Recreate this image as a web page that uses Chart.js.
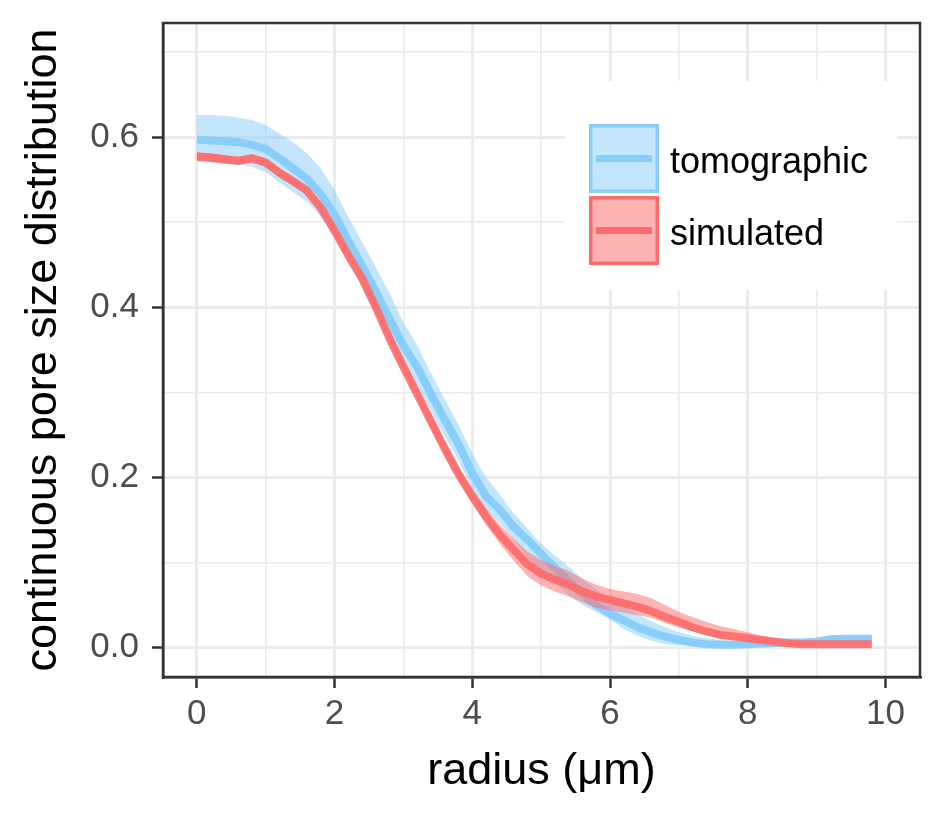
<!DOCTYPE html>
<html>
<head>
<meta charset="utf-8">
<script src="https://cdn.jsdelivr.net/npm/chart.js@4.4.0/dist/chart.umd.min.js"></script>
<style>
  html, body { margin: 0; padding: 0; background: #ffffff; }
  #wrap { width: 944px; height: 826px; }
</style>
</head>
<body>
<div id="wrap"><canvas id="pore-chart"></canvas></div>
<script>
// radius values (um)
var radius = [0, 0.2, 0.4, 0.6, 0.8, 1.0, 1.2, 1.4, 1.6, 1.8,
              2.0, 2.2, 2.4, 2.6, 2.8, 3.0, 3.2, 3.4, 3.6, 3.8,
              4.0, 4.2, 4.4, 4.6, 4.8, 5.0, 5.2, 5.4, 5.6, 5.8,
              6.0, 6.2, 6.4, 6.6, 6.8, 7.0, 7.2, 7.4, 7.6, 7.8,
              8.0, 8.2, 8.4, 8.6, 8.8, 9.0, 9.2, 9.4, 9.6, 9.8];

var tomoMean = [0.597, 0.596, 0.595, 0.594, 0.591, 0.586, 0.575, 0.563, 0.551, 0.533,
                0.509, 0.478, 0.449, 0.418, 0.386, 0.355, 0.330, 0.298, 0.268, 0.239,
                0.205, 0.178, 0.162, 0.142, 0.127, 0.110, 0.094, 0.078, 0.063, 0.050,
                0.040, 0.032, 0.024, 0.018, 0.013, 0.009, 0.006, 0.004, 0.0035, 0.0035,
                0.004, 0.005, 0.0055, 0.006, 0.006, 0.007, 0.010, 0.0105, 0.0105, 0.0105];
var tomoHigh = [0.626, 0.626, 0.625, 0.623, 0.620, 0.614, 0.604, 0.594, 0.581, 0.563,
                0.538, 0.506, 0.477, 0.447, 0.416, 0.382, 0.355, 0.322, 0.292, 0.262,
                0.228, 0.200, 0.180, 0.158, 0.140, 0.122, 0.108, 0.095, 0.081, 0.068,
                0.057, 0.048, 0.039, 0.031, 0.024, 0.018, 0.014, 0.011, 0.009, 0.008,
                0.008, 0.009, 0.009, 0.010, 0.010, 0.011, 0.013, 0.013, 0.013, 0.013];
var tomoLow  = [0.571, 0.570, 0.569, 0.568, 0.565, 0.559, 0.547, 0.535, 0.524, 0.507,
                0.483, 0.452, 0.424, 0.393, 0.362, 0.332, 0.307, 0.278, 0.248, 0.220,
                0.188, 0.162, 0.146, 0.127, 0.106, 0.089, 0.076, 0.062, 0.050, 0.042,
                0.033, 0.022, 0.014, 0.008, 0.004, 0.003, 0.002, 0.001, 0.001, 0.001,
                0.001, 0.001, 0.001, 0.002, 0.002, 0.003, 0.008, 0.008, 0.008, 0.008];

var simMean = [0.577, 0.576, 0.574, 0.572, 0.575, 0.570, 0.558, 0.548, 0.537, 0.517,
               0.490, 0.461, 0.434, 0.400, 0.363, 0.330, 0.298, 0.266, 0.234, 0.204,
               0.178, 0.154, 0.133, 0.115, 0.098, 0.087, 0.080, 0.074, 0.066, 0.060,
               0.056, 0.052, 0.048, 0.043, 0.036, 0.030, 0.024, 0.019, 0.015, 0.013,
               0.011, 0.009, 0.007, 0.005, 0.004, 0.004, 0.004, 0.004, 0.004, 0.004];
var simHigh = [0.582, 0.581, 0.579, 0.577, 0.580, 0.575, 0.563, 0.553, 0.542, 0.522,
               0.495, 0.466, 0.439, 0.405, 0.368, 0.335, 0.304, 0.272, 0.241, 0.212,
               0.187, 0.164, 0.144, 0.128, 0.113, 0.103, 0.096, 0.090, 0.081, 0.074,
               0.069, 0.066, 0.063, 0.058, 0.050, 0.042, 0.036, 0.030, 0.025, 0.022,
               0.018, 0.014, 0.011, 0.008, 0.006, 0.005, 0.005, 0.005, 0.005, 0.005];
var simLow  = [0.572, 0.571, 0.569, 0.567, 0.570, 0.565, 0.553, 0.543, 0.532, 0.512,
               0.485, 0.456, 0.429, 0.395, 0.358, 0.325, 0.292, 0.260, 0.227, 0.196,
               0.169, 0.144, 0.122, 0.102, 0.084, 0.073, 0.066, 0.060, 0.053, 0.047,
               0.044, 0.041, 0.038, 0.035, 0.029, 0.024, 0.019, 0.015, 0.011, 0.009,
               0.007, 0.005, 0.004, 0.003, 0.003, 0.003, 0.003, 0.003, 0.003, 0.003];

var seriesNames = ['tomographic', 'simulated'];
var xMajor = [0, 2, 4, 6, 8, 10];
var xMinor = [1, 3, 5, 7, 9];
var yMajor = [0, 0.2, 0.4, 0.6];
var yMinor = [0.1, 0.3, 0.5, 0.7];

var FONT = "'Liberation Sans', Arial, sans-serif";
var blue = '#87CEFA', red = '#FF6A6A';
var blueBand = 'rgba(135,206,250,0.5)', redBand = 'rgba(255,106,106,0.5)';
var clear = 'rgba(0,0,0,0)';

function pts(vals) {
    return radius.map(function (r, i) { return { x: r, y: vals[i] }; });
}
function isMajor(list, v) {
    return list.some(function (m) { return Math.abs(m - v) < 1e-6; });
}
function tickList(a, b) {
    return a.concat(b).sort(function (p, q) { return p - q; }).map(function (v) { return { value: v }; });
}
function noEdgePadding(s) {
    s.paddingTop = 0; s.paddingBottom = 0; s.paddingLeft = 0; s.paddingRight = 0;
}

// panel border drawn over the data, like ggplot's panel.border
var panelFrame = {
    id: 'panelFrame',
    afterDatasetsDraw: function (chart) {
        var a = chart.chartArea, c = chart.ctx;
        c.save();
        c.strokeStyle = '#333333';
        c.lineWidth = 2.5;
        c.strokeRect(a.left, a.top, a.right - a.left, a.bottom - a.top);
        c.restore();
    }
};

// legend placed inside the panel (top right)
var insideLegend = {
    id: 'insideLegend',
    afterDraw: function (chart) {
        var a = chart.chartArea, c = chart.ctx;
        var bx = a.left + 402, by = a.top + 58;
        c.save();
        c.fillStyle = '#ffffff';
        c.fillRect(bx, by, 332, 209);
        var keys = [[blue, blueBand], [red, redBand]];
        for (var i = 0; i < keys.length; i++) {
            var kx = bx + 24, ky = by + 43 + i * 72;
            c.fillStyle = '#ffffff';
            c.fillRect(kx, ky, 70, 69);
            c.fillStyle = keys[i][1];
            c.fillRect(kx, ky, 70, 69);
            c.strokeStyle = keys[i][0];
            c.lineWidth = 3.5;
            c.strokeRect(kx + 1.75, ky + 1.75, 66.5, 65.5);
            c.fillStyle = keys[i][0];
            c.fillRect(kx + 7, ky + 31, 56, 7);
            c.fillStyle = '#000000';
            c.font = '36px ' + FONT;
            c.textBaseline = 'alphabetic';
            c.textAlign = 'left';
            c.fillText(seriesNames[i], kx + 81, ky + 49);
        }
        c.restore();
    }
};

var ctx = document.getElementById('pore-chart');

var PoreChart = new Chart(ctx, {
    type: 'line',
    data: {
        datasets: [
            { label: 'tomo low', data: pts(tomoLow), borderColor: clear, borderWidth: 0, pointRadius: 0, fill: false, order: 7 },
            { label: 'tomo band', data: pts(tomoHigh), borderColor: clear, borderWidth: 0, pointRadius: 0, fill: '-1', backgroundColor: blueBand, order: 6 },
            { label: seriesNames[0], data: pts(tomoMean), borderColor: 'rgba(135,206,250,0.95)', borderWidth: 8, pointRadius: 0, fill: false, order: 5 },
            { label: 'sim low', data: pts(simLow), borderColor: clear, borderWidth: 0, pointRadius: 0, fill: false, order: 4 },
            { label: 'sim band', data: pts(simHigh), borderColor: clear, borderWidth: 0, pointRadius: 0, fill: '-1', backgroundColor: redBand, order: 3 },
            { label: seriesNames[1], data: pts(simMean), borderColor: 'rgba(255,106,106,0.9)', borderWidth: 8, pointRadius: 0, fill: false, order: 2 }
        ]
    },
    options: {
        responsive: true,
        maintainAspectRatio: false,
        animation: false,
        layout: { padding: { top: 23, right: 24, left: 0, bottom: 0 } },
        plugins: {
            legend: { display: false },
            tooltip: { enabled: false }
        },
        elements: { line: { tension: 0, borderJoinStyle: 'round', borderCapStyle: 'butt' } },
        scales: {
            x: {
                type: 'linear',
                min: -0.49,
                max: 10.5,
                afterBuildTicks: function (s) { s.ticks = tickList(xMajor, xMinor); },
                afterFit: function (s) { s.height = 149; noEdgePadding(s); },
                border: { display: true, color: '#333333', width: 2.5 },
                grid: {
                    color: '#EBEBEB',
                    lineWidth: function (c) { return isMajor(xMajor, c.tick.value) ? 3 : 1.6; },
                    tickLength: 11,
                    tickWidth: 2.5,
                    tickColor: function (c) { return isMajor(xMajor, c.tick.value) ? '#333333' : clear; }
                },
                ticks: {
                    autoSkip: false,
                    maxRotation: 0,
                    padding: 5,
                    color: '#4D4D4D',
                    font: { family: FONT, size: 35, lineHeight: 1.2 },
                    callback: function (v) { return isMajor(xMajor, v) ? String(v) : ''; }
                },
                title: {
                    display: true,
                    text: 'radius (\u03bcm)',
                    color: '#000000',
                    font: { family: FONT, size: 45, lineHeight: 1 },
                    padding: { top: 0, bottom: 32 }
                }
            },
            y: {
                type: 'linear',
                min: -0.0345,
                max: 0.734,
                afterBuildTicks: function (s) { s.ticks = tickList(yMajor, yMinor); },
                afterFit: function (s) { s.width = 163; noEdgePadding(s); },
                border: { display: true, color: '#333333', width: 2.5 },
                grid: {
                    color: '#EBEBEB',
                    lineWidth: function (c) { return isMajor(yMajor, c.tick.value) ? 3 : 1.6; },
                    tickLength: 11,
                    tickWidth: 2.5,
                    tickColor: function (c) { return isMajor(yMajor, c.tick.value) ? '#333333' : clear; }
                },
                ticks: {
                    autoSkip: false,
                    padding: 13,
                    color: '#4D4D4D',
                    font: { family: FONT, size: 35 },
                    callback: function (v) { return isMajor(yMajor, v) ? v.toFixed(1) : ''; }
                },
                title: {
                    display: true,
                    text: 'continuous pore size distribution',
                    color: '#000000',
                    font: { family: FONT, size: 45, lineHeight: 1 },
                    padding: { top: 21, bottom: 0 }
                }
            }
        }
    },
    plugins: [panelFrame, insideLegend]
});
</script>
</body>
</html>
